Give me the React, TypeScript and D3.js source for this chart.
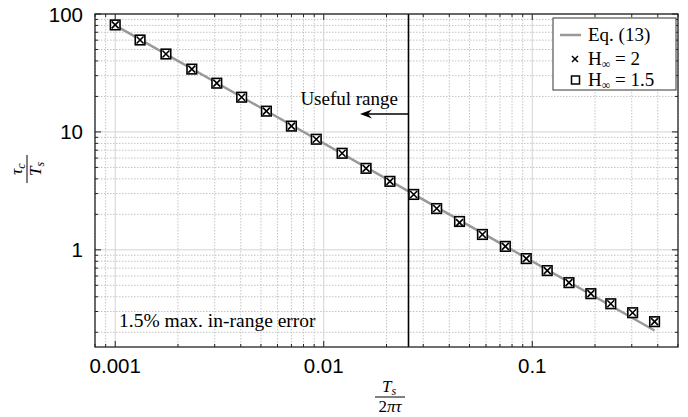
import React from "react";
import * as d3 from "d3";

const W = 688;
const H = 417;

// Data
const xVals = [0.001, 0.001316, 0.001751, 0.00233, 0.00307, 0.00404, 0.00531, 0.0070, 0.00921, 0.01225, 0.01596, 0.02077, 0.0270, 0.0348, 0.0448, 0.0577, 0.0743, 0.0936, 0.118, 0.150, 0.191, 0.238, 0.303, 0.386];
const ySquare = [80.8, 60.2, 45.8, 34.1, 25.9, 19.7, 15.0, 11.2, 8.67, 6.59, 4.91, 3.81, 2.95, 2.24, 1.74, 1.35, 1.07, 0.843, 0.667, 0.527, 0.425, 0.349, 0.293, 0.246];
const yCross = [80.8, 60.2, 45.8, 34.1, 25.9, 19.7, 15.0, 11.2, 8.67, 6.59, 4.91, 3.81, 2.95, 2.24, 1.70, 1.35, 1.07, 0.843, 0.667, 0.527, 0.425, 0.349, 0.293, 0.246];
const eqX = [0.001, 0.386];
const eqY = [80.0, 0.207];
const usefulLimit = 0.0255;
const xTickValues = [0.001, 0.01, 0.1];
const xTickLabels = ["0.001", "0.01", "0.1"];
const yTickValues = [1, 10, 100];
const yTickLabels = ["1", "10", "100"];

const M = { left: 95, right: 678, top: 14, bottom: 347 };

export default function App() {
  const x = d3.scaleLog().domain([0.0008, 0.5]).range([M.left, M.right]);
  const y = d3.scaleLog().domain([0.15, 100]).range([M.bottom, M.top]);

  const xMinor: number[] = [];
  for (let e = -4; e <= 0; e++) for (let m = 1; m < 10; m++) {
    const v = m * Math.pow(10, e);
    if (v >= 0.0008 && v <= 0.5) xMinor.push(v);
  }
  const yMinor: number[] = [];
  for (let e = -1; e <= 2; e++) for (let m = 1; m < 10; m++) {
    const v = m * Math.pow(10, e);
    if (v >= 0.15 && v <= 100) yMinor.push(v);
  }
  const isMajor = (v: number) => Math.abs(Math.log10(v) - Math.round(Math.log10(v))) < 1e-9;

  const line = d3.line<number>().x((_, i) => x(eqX[i])).y((_, i) => y(eqY[i]));
  const serif = "'Liberation Serif', 'DejaVu Serif', serif";
  const sans = "'Liberation Sans', Arial, sans-serif";
  const vx = x(usefulLimit);
  const tip = 360;

  return (
    <svg width={W} height={H} style={{ position: "absolute", left: 0, top: 0, background: "#fff" }}>
      {/* grid */}
      {xMinor.map((v, i) => (
        <line key={"gx" + i} x1={x(v)} x2={x(v)} y1={M.top} y2={M.bottom}
          stroke={isMajor(v) ? "#d4d4d4" : "#c4c4c4"} strokeWidth={1}
          strokeDasharray={isMajor(v) ? undefined : "1.5,1.5"} />
      ))}
      {yMinor.map((v, i) => (
        <line key={"gy" + i} x1={M.left} x2={M.right} y1={y(v)} y2={y(v)}
          stroke={isMajor(v) ? "#d4d4d4" : "#c4c4c4"} strokeWidth={1}
          strokeDasharray={isMajor(v) ? undefined : "1.5,1.5"} />
      ))}

      {/* eq line */}
      <path d={line(eqX) || ""} fill="none" stroke="#999" strokeWidth={2.5} />

      {/* markers */}
      {xVals.map((v, i) => {
        const cx = x(v), cy = y(ySquare[i]);
        return <rect key={"s" + i} x={cx - 4.8} y={cy - 4.8} width={9.6} height={9.6} fill="#fff" stroke="#000" strokeWidth={1.6} />;
      })}
      {xVals.map((v, i) => {
        const cx = x(v), cy = y(yCross[i]);
        const r = 3.5;
        return (
          <g key={"c" + i} stroke="#000" strokeWidth={1.6}>
            <line x1={cx - r} y1={cy - r} x2={cx + r} y2={cy + r} />
            <line x1={cx - r} y1={cy + r} x2={cx + r} y2={cy - r} />
          </g>
        );
      })}

      {/* useful range line and arrow */}
      <line x1={vx} x2={vx} y1={M.top} y2={M.bottom} stroke="#000" strokeWidth={1.6} />
      <line x1={vx} x2={tip + 6} y1={114} y2={114} stroke="#000" strokeWidth={1.5} />
      <path d={`M${tip},114 L${tip + 12},109.5 L${tip + 8},114 L${tip + 12},118.5 Z`} fill="#000" />
      <text x={398} y={105} textAnchor="end" fontFamily={serif} fontSize={19}>Useful range</text>
      <text x={119} y={327} fontFamily={serif} fontSize={19.5}>1.5% max. in-range error</text>

      {/* axes box */}
      <rect x={M.left} y={M.top} width={M.right - M.left} height={M.bottom - M.top} fill="none" stroke="#222" strokeWidth={1.3} />
      {xMinor.map((v, i) => {
        const L = isMajor(v) ? 6 : 3;
        return (
          <g key={"tx" + i} stroke="#222" strokeWidth={1}>
            <line x1={x(v)} x2={x(v)} y1={M.bottom} y2={M.bottom - L} />
            <line x1={x(v)} x2={x(v)} y1={M.top} y2={M.top + L} />
          </g>
        );
      })}
      {yMinor.map((v, i) => {
        const L = isMajor(v) ? 6 : 3;
        return (
          <g key={"ty" + i} stroke="#222" strokeWidth={1}>
            <line x1={M.left} x2={M.left + L} y1={y(v)} y2={y(v)} />
            <line x1={M.right} x2={M.right - L} y1={y(v)} y2={y(v)} />
          </g>
        );
      })}
      {xTickValues.map((v, i) => (
        <text key={"xl" + i} x={x(v)} y={373} textAnchor="middle" fontFamily={sans} fontSize={20.5}>{xTickLabels[i]}</text>
      ))}
      {yTickValues.map((v, i) => (
        <text key={"yl" + i} x={83} y={y(v) + 7.5} textAnchor="end" fontFamily={sans} fontSize={20.5}>{yTickLabels[i]}</text>
      ))}

      {/* x label */}
      <g fontFamily={serif} fontSize={17} fontStyle="italic">
        <text x={389} y={392} textAnchor="middle">T<tspan fontSize={12} dy={3}>s</tspan></text>
        <line x1={375} x2={405} y1={397} y2={397} stroke="#000" strokeWidth={1} />
        <text x={390} y={412} textAnchor="middle"><tspan fontStyle="normal">2</tspan>πτ</text>
      </g>

      {/* y label */}
      <g transform="translate(27,169) rotate(-90)" fontFamily={serif} fontSize={17} fontStyle="italic">
        <text x={0} y={-5} textAnchor="middle">τ<tspan fontSize={12} dy={3}>c</tspan></text>
        <line x1={-14} x2={14} y1={0} y2={0} stroke="#000" strokeWidth={1} />
        <text x={0} y={14} textAnchor="middle">T<tspan fontSize={12} dy={3}>s</tspan></text>
      </g>

      {/* legend */}
      <g>
        <rect x={553} y={18} width={123} height={72} fill="#fff" stroke="#333" strokeWidth={1} />
        <line x1={560} x2={581} y1={35} y2={35} stroke="#999" strokeWidth={2.5} />
        <text x={588} y={41} fontFamily={serif} fontSize={19}>Eq. (13)</text>
        <g stroke="#000" strokeWidth={1.5}>
          <line x1={572} y1={56} x2={578} y2={62} />
          <line x1={572} y1={62} x2={578} y2={56} />
        </g>
        <text x={588} y={65} fontFamily={serif} fontSize={19}>H<tspan fontSize={12} dy={3}>∞</tspan><tspan dy={-3}> = 2</tspan></text>
        <rect x={571.5} y={76} width={8} height={8} fill="#fff" stroke="#000" strokeWidth={1.5} />
        <text x={588} y={86} fontFamily={serif} fontSize={19}>H<tspan fontSize={12} dy={3}>∞</tspan><tspan dy={-3}> = 1.5</tspan></text>
      </g>
    </svg>
  );
}
